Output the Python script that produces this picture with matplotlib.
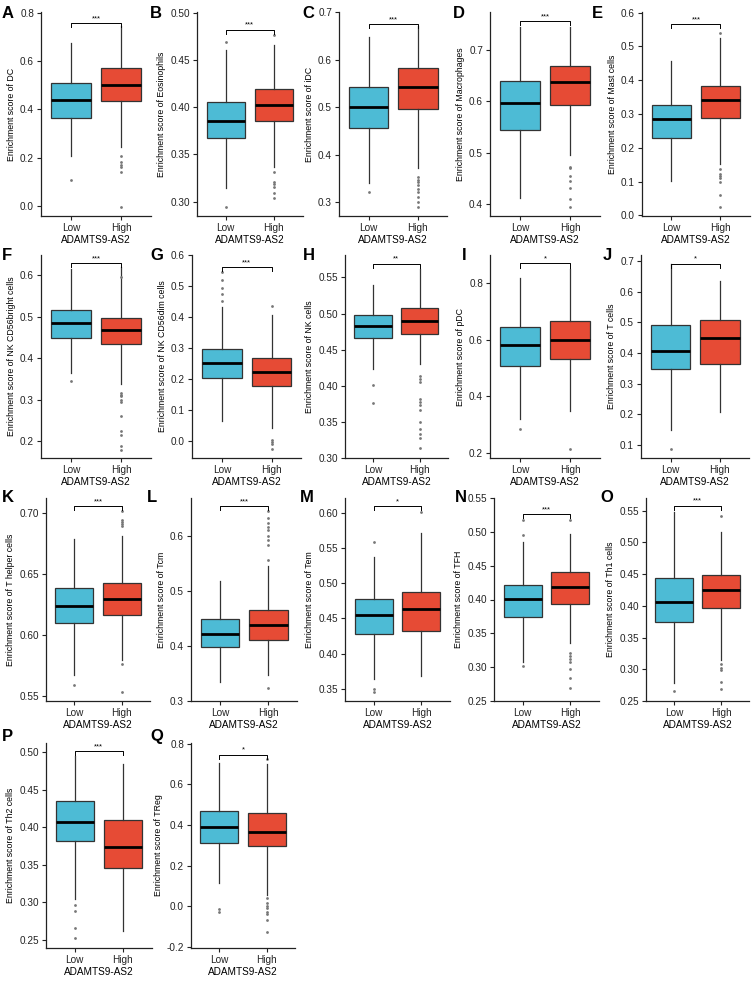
import matplotlib
matplotlib.use("Agg")
import matplotlib.pyplot as plt

plt.rcParams['font.family'] = ['Liberation Sans', 'DejaVu Sans']

# cell types (y label suffix), panel letters and significance
cells = ["DC", "Eosinophils", "iDC", "Macrophages", "Mast cells",
         "NK CD56bright cells", "NK CD56dim cells", "NK cells", "pDC", "T cells",
         "T helper cells", "Tcm", "Tem", "TFH", "Th1 cells",
         "Th2 cells", "TReg"]
letters = list("ABCDEFGHIJKLMNOPQ")
stars = ["***", "***", "***", "***", "***",
         "***", "***", "**", "*", "*",
         "***", "***", "*", "***", "***",
         "***", "*"]

# box stats: whislo, q1, med, q3, whishi
low_stats = [
    [0.207, 0.366, 0.438, 0.510, 0.676],
    [0.314, 0.3676, 0.3856, 0.406, 0.460],
    [0.341, 0.457, 0.5007, 0.542, 0.649],
    [0.412, 0.544, 0.597, 0.639, 0.744],
    [0.103, 0.229, 0.284, 0.3275, 0.456],
    [0.364, 0.4496, 0.484, 0.516, 0.614],
    [0.0635, 0.202, 0.250, 0.298, 0.432],
    [0.423, 0.4668, 0.483, 0.4985, 0.539],
    [0.318, 0.508, 0.582, 0.6435, 0.820],
    [0.148, 0.349, 0.408, 0.491, 0.690],
    [0.5673, 0.6099, 0.6233, 0.6387, 0.679],
    [0.3345, 0.398, 0.4218, 0.4497, 0.518],
    [0.3633, 0.4271, 0.4552, 0.4776, 0.537],
    [0.3078, 0.3742, 0.4006, 0.4216, 0.485],
    [0.279, 0.3742, 0.4058, 0.4442, 0.548],
    [0.3047, 0.3812, 0.4066, 0.4355, 0.4947],
    [0.116, 0.3142, 0.3922, 0.4686, 0.7058],
]
high_stats = [
    [0.245, 0.435, 0.499, 0.571, 0.745],
    [0.337, 0.3856, 0.402, 0.4197, 0.466],
    [0.372, 0.497, 0.542, 0.583, 0.672],
    [0.495, 0.592, 0.637, 0.668, 0.744],
    [0.153, 0.287, 0.341, 0.384, 0.525],
    [0.338, 0.4336, 0.4666, 0.496, 0.620],
    [0.042, 0.178, 0.223, 0.268, 0.405],
    [0.430, 0.4714, 0.490, 0.508, 0.561],
    [0.347, 0.532, 0.600, 0.667, 0.849],
    [0.2065, 0.364, 0.4505, 0.508, 0.635],
    [0.579, 0.616, 0.6291, 0.6423, 0.681],
    [0.3467, 0.411, 0.438, 0.4667, 0.5467],
    [0.368, 0.432, 0.4638, 0.488, 0.5714],
    [0.3361, 0.3928, 0.4182, 0.4406, 0.4973],
    [0.3147, 0.396, 0.4253, 0.4484, 0.5158],
    [0.2611, 0.3456, 0.3732, 0.4101, 0.4849],
    [0.0559, 0.2963, 0.3646, 0.4572, 0.6976],
]
low_out = [
    [0.108], [0.469, 0.2947], [0.322], [], [],
    [0.3456], [0.545, 0.52, 0.495, 0.475, 0.45], [0.401, 0.376], [0.282], [0.087],
    [0.5588], [], [0.559, 0.35, 0.345], [0.518, 0.495, 0.301], [0.2658],
    [0.2967, 0.2878, 0.2656, 0.2522], [-0.014, -0.025],
]
high_out = [
    [0.207, 0.181, 0.170, 0.163, 0.142, -0.003],
    [0.476, 0.3317, 0.321, 0.3185, 0.316, 0.309, 0.3035],
    [0.354, 0.347, 0.342, 0.336, 0.327, 0.322, 0.312, 0.301, 0.291],
    [0.473, 0.470, 0.454, 0.444, 0.432, 0.410, 0.395],
    [0.54, 0.138, 0.123, 0.116, 0.111, 0.098, 0.059, 0.024],
    [0.594, 0.316, 0.312, 0.308, 0.300, 0.294, 0.260, 0.224, 0.216, 0.188, 0.180],
    [0.435, 0.0045, -0.003, -0.009, -0.0255],
    [0.414, 0.410, 0.405, 0.381, 0.378, 0.374, 0.366, 0.350, 0.340, 0.333, 0.328, 0.314],
    [0.214],
    [],
    [0.7014, 0.6945, 0.6926, 0.691, 0.689, 0.5758, 0.5527],
    [0.6455, 0.6333, 0.624, 0.618, 0.612, 0.600, 0.593, 0.585, 0.5564, 0.3242],
    [0.6014],
    [0.518, 0.3215, 0.317, 0.3117, 0.308, 0.297, 0.2839, 0.2687],
    [0.541, 0.3079, 0.3026, 0.2989, 0.2795, 0.269],
    [],
    [0.722, 0.0397, 0.0153, 0.0023, -0.009, -0.025, -0.037, -0.066, -0.123],
]
bracket_y = [0.757, 0.482, 0.675, 0.755, 0.567,
             0.628, 0.562, 0.569, 0.870, 0.692,
             0.706, 0.6558, 0.610, 0.5266, 0.558,
             0.5013, 0.746]

# axis ranges and ticks
ylims = [(-0.041, 0.803), (0.2849, 0.5007), (0.271, 0.701), (0.377, 0.773), (-0.002, 0.602),
         (0.16, 0.648), (-0.055, 0.6), (0.30, 0.581), (0.181, 0.90), (0.057, 0.72),
         (0.5456, 0.7124), (0.30, 0.67), (0.3324, 0.6214), (0.25, 0.55), (0.25, 0.57),
         (0.2389, 0.5125), (-0.204, 0.803)]
yticks = [
    ([0.0, 0.2, 0.4, 0.6, 0.8], "%.1f"),
    ([0.30, 0.35, 0.40, 0.45, 0.50], "%.2f"),
    ([0.3, 0.4, 0.5, 0.6, 0.7], "%.1f"),
    ([0.4, 0.5, 0.6, 0.7], "%.1f"),
    ([0.0, 0.1, 0.2, 0.3, 0.4, 0.5, 0.6], "%.1f"),
    ([0.2, 0.3, 0.4, 0.5, 0.6], "%.1f"),
    ([0.0, 0.1, 0.2, 0.3, 0.4, 0.5, 0.6], "%.1f"),
    ([0.30, 0.35, 0.40, 0.45, 0.50, 0.55], "%.2f"),
    ([0.2, 0.4, 0.6, 0.8], "%.1f"),
    ([0.1, 0.2, 0.3, 0.4, 0.5, 0.6, 0.7], "%.1f"),
    ([0.55, 0.60, 0.65, 0.70], "%.2f"),
    ([0.3, 0.4, 0.5, 0.6], "%.1f"),
    ([0.35, 0.40, 0.45, 0.50, 0.55, 0.60], "%.2f"),
    ([0.25, 0.30, 0.35, 0.40, 0.45, 0.50, 0.55], "%.2f"),
    ([0.25, 0.30, 0.35, 0.40, 0.45, 0.50, 0.55], "%.2f"),
    ([0.25, 0.30, 0.35, 0.40, 0.45, 0.50], "%.2f"),
    ([-0.2, 0.0, 0.2, 0.4, 0.6, 0.8], "%.1f"),
]
groups = ["Low", "High"]
colors = ["#4DBBD5", "#E64B35"]

# layout in pixels
W, H = 753, 982
rows_tb = [(12, 216), (255, 458), (498, 701), (743, 948)]
lefts = [41, 197, 339, 490, 642, 41, 192, 345, 490, 641, 46, 191, 345, 494, 646, 46, 191]
spacing = [50, 48, 49.3, 50, 49, 50, 49.7, 46.7, 50, 49.3, 47.4, 48.3, 47.7, 47.7, 47, 48, 47.4]
letter_x = [2, 150, 302, 453, 592, 2, 150, 303, 462, 603, 2, 147, 300, 455, 600, 2, 150]
letter_top = [6, 6, 6, 6, 6, 248, 248, 248, 248, 248, 490, 490, 490, 490, 490, 729, 729]

fig = plt.figure(figsize=(W / 100, H / 100), dpi=100)

for i in range(len(cells)):
    t, b = rows_tb[i // 5]
    w = 2.2 * spacing[i]
    ax = fig.add_axes([lefts[i] / W, 1 - b / H, w / W, (b - t) / H])
    st = []
    for s, out in ((low_stats[i], low_out[i]), (high_stats[i], high_out[i])):
        st.append(dict(whislo=s[0], q1=s[1], med=s[2], q3=s[3], whishi=s[4], fliers=out))
    bp = ax.bxp(st, positions=[1, 2], widths=0.8, patch_artist=True, showcaps=False,
                boxprops=dict(edgecolor="#333333", linewidth=0.9),
                whiskerprops=dict(color="#333333", linewidth=0.9),
                medianprops=dict(color="black", linewidth=2.0),
                flierprops=dict(marker="o", markersize=2.0, markerfacecolor="#777777",
                                markeredgecolor="none"))
    for patch, c in zip(bp["boxes"], colors):
        patch.set_facecolor(c)

    lo, hi = ylims[i]
    ax.set_ylim(lo, hi)
    ax.set_xlim(0.4, 2.6)
    ticks, fmt = yticks[i]
    ax.set_yticks(ticks)
    ax.set_yticklabels([fmt % v if abs(v) > 1e-9 else fmt % 0 for v in ticks])
    ax.set_xticks([1, 2])
    ax.set_xticklabels(groups)
    ax.set_xlabel("ADAMTS9-AS2", fontsize=7.2, labelpad=1.5)
    ax.set_ylabel("Enrichment score of " + cells[i], fontsize=6.3, labelpad=3)
    ax.tick_params(labelsize=7.2, colors="#222222", length=3, width=0.8, pad=2)
    for sp in ["top", "right"]:
        ax.spines[sp].set_visible(False)
    for sp in ["left", "bottom"]:
        ax.spines[sp].set_linewidth(0.9)
        ax.spines[sp].set_color("#222222")

    # significance bracket
    by = bracket_y[i]
    tick = 0.02 * (hi - lo)
    ax.plot([1, 1, 2, 2], [by - tick, by, by, by - tick], color="black", lw=0.7)
    ax.text(1.5, by + 0.004 * (hi - lo), stars[i], ha="center", va="bottom", fontsize=5.5)

    fig.text(letter_x[i] / W, 1 - letter_top[i] / H, letters[i], fontsize=12,
             fontweight="bold", ha="left", va="top")

fig.savefig("out.png", dpi=100)
